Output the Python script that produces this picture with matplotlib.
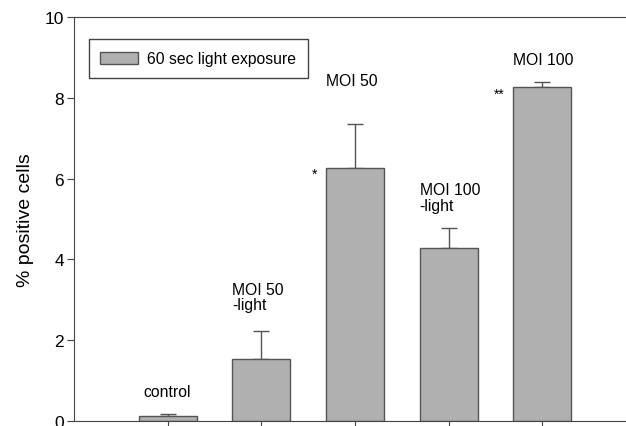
import matplotlib.pyplot as plt

# data
groups = ["control", "MOI 50\n-light", "MOI 50", "MOI 100\n-light", "MOI 100"]
values = [0.13, 1.53, 6.27, 4.28, 8.26]
errors = [0.04, 0.71, 1.08, 0.51, 0.13]
stars = ["", "", "*", "", "**"]
# height (data units) of the centre of each group label
label_y = [0.74, 3.07, 8.44, 5.53, 8.96]

plt.rcParams['font.family'] = ['Liberation Sans', 'DejaVu Sans']
plt.rcParams['font.size'] = 11.3

fig = plt.figure(figsize=(6.26, 4.27), dpi=100)
ax = fig.add_axes([0.118, 0.0117, 0.898, 0.946])

x = list(range(1, len(values) + 1))
ax.bar(x, values, width=0.62, color='#b0b0b0', edgecolor='#555555', linewidth=1,
       label='60 sec light exposure', zorder=2)
ax.errorbar(x, values, yerr=[[0] * len(errors), errors], fmt='none', ecolor='#555555',
            elinewidth=1, capsize=6, capthick=1, zorder=1)

# group labels above the bars
for xi, ly, g in zip(x, label_y, groups):
    if g == 'control':
        ax.text(xi, ly, g, ha='center', va='center')
    else:
        ax.text(xi - 0.31, ly, g, ha='left', va='center', linespacing=1.05)

# significance marks
for xi, v, s in zip(x, values, stars):
    if s:
        ax.text(xi - 0.40, v - 0.15, s, ha='right', va='center', fontsize=10)

ax.set_xlim(0, 6)
ax.set_ylim(0, 10)
ax.set_yticks([0, 2, 4, 6, 8, 10])
ax.set_xticks(x)
ax.set_xticklabels([])
ax.tick_params(direction='out', length=5, pad=2, color='#444444', labelsize=12.5)
ax.set_ylabel('% positive cells', fontsize=14, labelpad=8)
for sp in ax.spines.values():
    sp.set_color('#444444')

leg = ax.legend(loc='upper left', bbox_to_anchor=(0.015, 0.96), fancybox=False,
                edgecolor='#444444', handlelength=2.4, handleheight=0.8,
                handletextpad=0.6, borderpad=0.75, borderaxespad=0.4, framealpha=1)
leg.get_frame().set_linewidth(1)

plt.savefig('out.png', dpi=100)
